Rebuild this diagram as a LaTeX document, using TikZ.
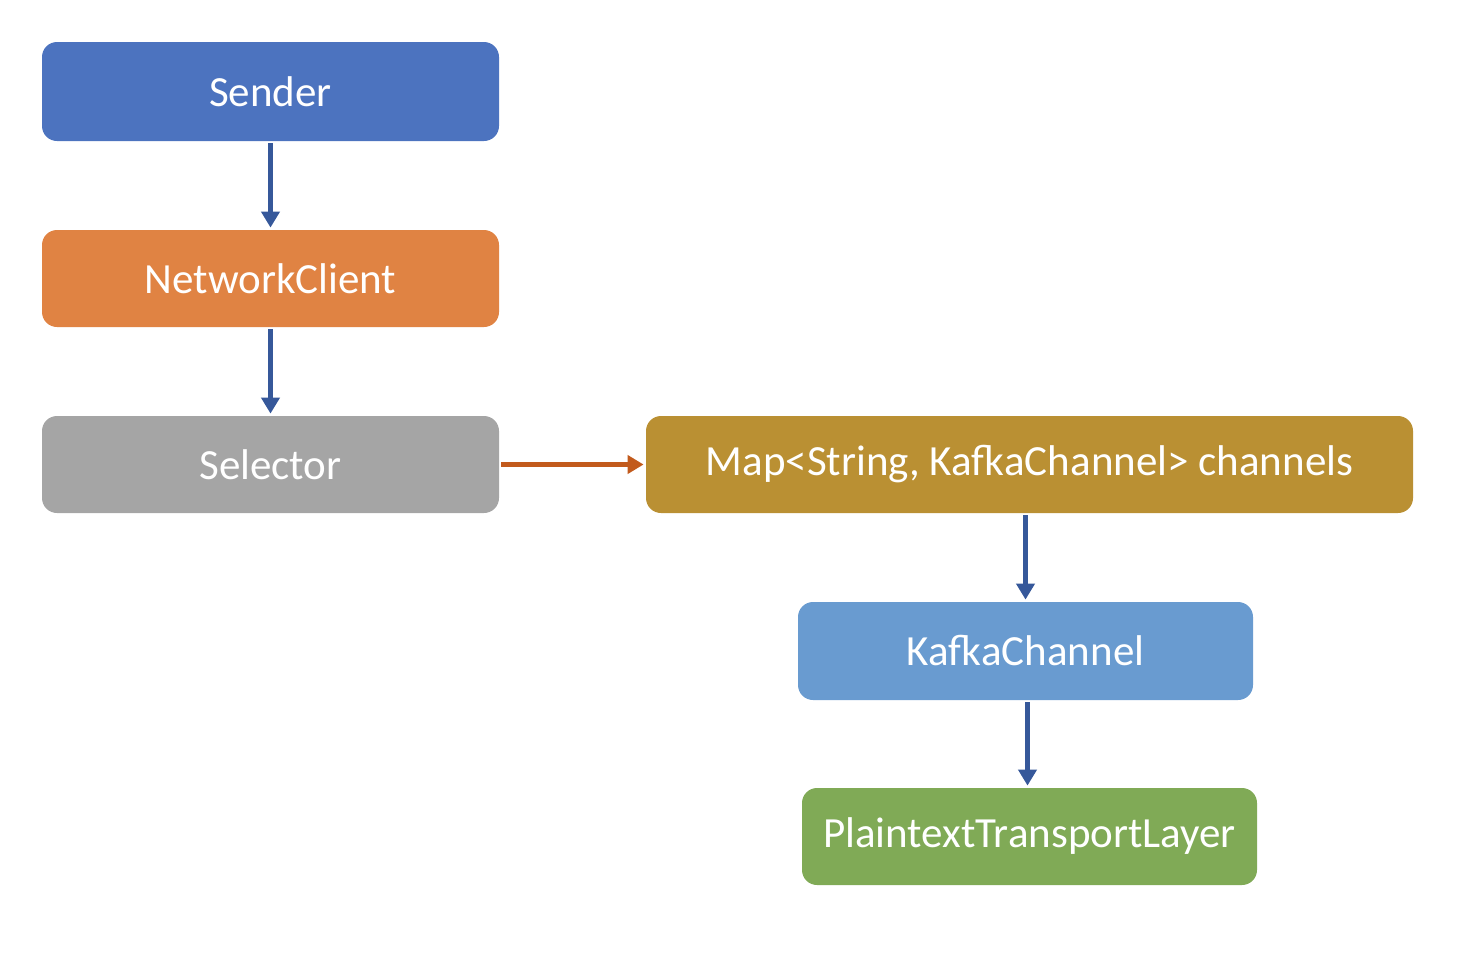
\documentclass[tikz,border=0pt]{standalone}
\usepackage{fontspec}
\setmainfont{Carlito}
\usetikzlibrary{arrows.meta}
\definecolor{cSender}{HTML}{4C73BF}
\definecolor{cNet}{HTML}{E08343}
\definecolor{cSel}{HTML}{A5A5A5}
\definecolor{cMap}{HTML}{BA9033}
\definecolor{cKafka}{HTML}{699BD0}
\definecolor{cPlain}{HTML}{80AA56}
\definecolor{cArrowBlue}{HTML}{36589A}
\definecolor{cArrowOrange}{HTML}{C25A1C}
\tikzset{
  box/.style={rectangle, rounded corners=7.5pt, draw=none, text=white, inner sep=0pt,
    font=\fontsize{21.5}{26}\selectfont, anchor=center},
  flow/.style={draw=cArrowBlue, line width=2.4pt, -{Triangle[width=9pt,length=8pt]}, shorten >=1pt, shorten <=1pt},
  flowo/.style={draw=cArrowOrange, line width=2.4pt, -{Triangle[width=9pt,length=8pt]}, shorten >=1pt, shorten <=1pt}
}
\begin{document}
\begin{tikzpicture}[x=0.5pt,y=-0.5pt]
\useasboundingbox (0,0) rectangle (1470,958);
\node[box, fill=cSender, minimum width=228.5pt, minimum height=49.5pt] (sender) at (270.5,91.5) {Sender};
\node[box, fill=cNet, minimum width=228.5pt, minimum height=48.5pt] (net) at (270.5,278.5) {NetworkClient};
\node[box, fill=cSel, minimum width=228.5pt, minimum height=48.5pt] (sel) at (270.5,464.5) {Selector};
\node[box, fill=cMap, minimum width=383.5pt, minimum height=48.5pt] (map) at (1029.5,464.5) {Map<String, KafkaChannel> channels};
\node[box, fill=cKafka, minimum width=227.5pt, minimum height=49pt] (kc) at (1025.5,651) {KafkaChannel};
\node[box, fill=cPlain, minimum width=227.5pt, minimum height=48.5pt] (pt) at (1029.5,836.5) {PlaintextTransportLayer};
\draw[flow] (sender) -- (net);
\draw[flow] (net) -- (sel);
\draw[flowo] (sel) -- (map);
\draw[flow] (map.south -| kc.north) -- (kc.north);
\draw[flow] ([xshift=1pt]kc.south) -- ([xshift=1pt]kc.south |- pt.north);
\end{tikzpicture}
\end{document}
